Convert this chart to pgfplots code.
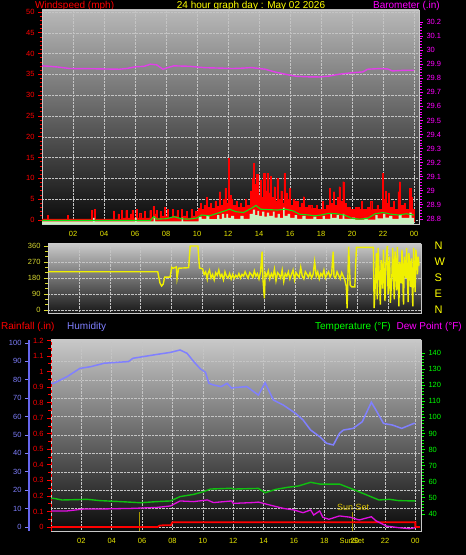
\documentclass[border=0pt]{standalone}
\usepackage{fontspec}
\setmainfont{Liberation Sans}
\usepackage{pgfplots}
\pgfplotsset{compat=1.18}
\definecolor{ttlyellow}{HTML}{FFFF00}
\definecolor{tickyellow}{HTML}{E8E800}
\definecolor{windred}{HTML}{FF0000}
\definecolor{baromag}{HTML}{FF00FF}
\definecolor{barline}{HTML}{E040E8}
\definecolor{lgfill}{HTML}{C8F0C0}
\definecolor{avggreen}{HTML}{10E010}
\definecolor{diryellow}{HTML}{F0F000}
\definecolor{dirlab}{HTML}{D8D830}
\definecolor{humblue}{HTML}{8080FF}
\definecolor{humaxis}{HTML}{6666EE}
\definecolor{tempgreen}{HTML}{10C010}
\definecolor{templab}{HTML}{00FF00}
\definecolor{dewmag}{HTML}{E010E0}
\definecolor{sunline}{HTML}{A89800}
\definecolor{suntext}{HTML}{D8C000}
\definecolor{framec}{HTML}{C8C8C8}
\definecolor{gridc}{HTML}{C4C4C4}
\definecolor{bgtopa}{HTML}{B8B8B8}
\definecolor{bgmida}{HTML}{505050}
\definecolor{bgbota}{HTML}{0A0A0A}
\definecolor{bgtopb}{HTML}{C8C8C8}
\definecolor{bgbotb}{HTML}{181818}
\pgfplotsset{
  panel/.style={
    scale only axis, anchor=south west,
    tick align=outside,
    major tick length=4pt, minor tick length=2.5pt,
    every tick/.style={line width=0.8pt},
    /pgf/number format/assume math mode=true,
    ticklabel style={font=\fontsize{7.5}{8}\selectfont},
    axis line style={draw=framec, line width=0.9pt},
  },
  gridded/.style={
    grid=major,
    major grid style={densely dotted, draw=gridc, line width=0.5pt},
  },
}
\begin{document}
\begin{tikzpicture}
\fill[black] (0pt,0pt) rectangle (466pt,555pt);

% ---------------- titles ----------------
\node[anchor=west, text=windred, font=\fontsize{10}{12}\selectfont, inner sep=0pt] at (35pt,549pt) {Windspeed (mph)};
\node[text=ttlyellow, font=\fontsize{10}{12}\selectfont, inner sep=0pt] at (251pt,549pt) {24 hour graph day : May 02 2026};
\node[anchor=east, text=baromag, font=\fontsize{10}{12}\selectfont, inner sep=0pt] at (440pt,549pt) {Barometer (.in)};

% ---------------- top panel: wind ----------------
\begin{axis}[panel, gridded, at={(42pt,331pt)}, width=377pt, height=214pt,
  xmin=0, xmax=24.32, ymin=-0.96, ymax=50.48,
  axis background/.style={top color=bgtopa, middle color=bgmida, bottom color=bgbota},
  xtick={2,4,...,24}, xticklabels={02,04,06,08,10,12,14,16,18,20,22,00},
  xticklabel style={text=tickyellow}, xtick style={draw=none}, xtick pos=left,
  ytick={0,5,...,50}, minor y tick num=4, ytick pos=left,
  yticklabel style={text=windred}, ytick style={draw=windred}]
% gusts
\addplot[const plot, fill=windred, draw=windred, line width=0.4pt] coordinates {
(0,-0.5) (0,0.3) (0.35,1.1) (0.42,0.3) (1.65,1.1) (1.72,0.3) (3.2,2.4) (3.27,0.3) (3.35,2.5) (3.42,0.3)
(4.6,2.2) (4.67,0.3) (4.9,1.5) (4.97,0.3) (5.1,2.4) (5.17,0.5) (5.4,2.3) (5.47,0.5) (5.7,1.5) (5.8,2.4)
(5.87,0.5) (6.05,2.5) (6.12,0.5) (6.3,1.6) (6.37,0.5) (6.6,2.0) (6.67,0.5) (6.95,2.3) (7.02,0.5) (7.15,3.2)
(7.22,1.5) (7.35,2.4) (7.42,0.5) (7.6,2.0) (7.67,1.0) (7.9,3.0) (7.97,1.0) (8.1,2.5) (8.17,0.5) (8.4,2.5)
(8.47,1.0) (8.7,2.4) (8.77,0.5) (9.0,2.5) (9.07,1.0) (9.3,2.0) (9.37,0.5) (9.6,2.5) (9.67,1.0) (9.9,2.0)
(10.0,1.5) (10.05,2.8) (10.2,4.0) (10.27,2.5) (10.45,3.5) (10.6,5.4) (10.67,3.0) (10.85,4.0) (10.92,2.8)
(11.15,4.5) (11.22,3.2) (11.45,6.8) (11.52,3.5) (11.7,5.0) (11.8,7.6) (11.87,4.0) (12.0,14.8) (12.07,6.0)
(12.2,5.0) (12.27,3.5) (12.5,4.5) (12.57,3.0) (12.8,4.0) (12.87,3.0) (13.1,5.0) (13.17,3.5) (13.45,7.0)
(13.55,10.0) (13.65,13.6) (13.72,8.5) (13.85,11.0) (13.92,6.0) (14.05,9.5) (14.12,5.5) (14.3,11.2)
(14.37,7.0) (14.5,11.2) (14.57,6.5) (14.7,10.5) (14.77,5.5) (14.95,8.0) (15.02,4.5) (15.15,10.0) (15.22,5.0)
(15.4,7.0) (15.47,4.0) (15.6,11.2) (15.67,6.5) (15.8,5.0) (15.95,7.6) (16.02,3.5) (16.2,5.0) (16.27,4.5)
(16.5,3.0) (16.7,4.0) (16.85,5.6) (16.92,3.0) (17.2,3.5) (17.4,2.8) (17.7,3.5) (17.77,2.5) (18.05,4.4)
(18.12,2.5) (18.35,3.5) (18.55,7.6) (18.62,4.0) (18.8,6.8) (18.87,3.5) (19.05,5.5) (19.15,8.0) (19.22,4.5)
(19.4,9.2) (19.47,4.0) (19.65,3.0) (19.9,2.5) (20.2,3.0) (20.45,2.5) (20.6,4.4) (20.67,2.5) (21.0,3.0)
(21.2,4.4) (21.27,2.5) (21.6,3.5) (21.67,2.5) (21.95,11.2) (22.02,5.0) (22.15,7.0) (22.22,4.0) (22.35,6.5)
(22.42,3.0) (22.65,4.4) (22.72,2.5) (22.95,6.8) (23.05,9.2) (23.12,3.5) (23.35,4.0) (23.42,2.5) (23.7,7.6)
(23.8,5.5) (23.87,2.5) (24.0,2.5) (24.0,-0.5)};
% wind speed samples
\addplot[const plot, fill=lgfill, draw=none] coordinates {
(0,-0.96) (0,-0.3) (3.3,0.5) (3.4,-0.3) (6.0,0.6) (6.1,-0.3) (7.2,0.8) (7.3,-0.3) (9.0,0.6) (9.1,-0.3)
(10.1,0.8) (10.3,0.3) (10.6,1.0) (10.8,0.2) (11.3,1.2) (11.45,0.3) (11.6,1.5) (11.75,0.5) (11.9,1.5)
(12.0,0.5) (12.2,1.0) (12.4,0.3) (12.8,1.0) (13.0,0.3) (13.4,1.5) (13.6,2.5) (13.75,1.2) (13.9,2.2)
(14.0,1.0) (14.2,2.0) (14.35,0.8) (14.5,1.8) (14.65,1.0) (14.9,2.0) (15.0,0.6) (15.2,1.5) (15.35,0.5)
(15.55,3.0) (15.65,1.0) (15.85,1.5) (16.0,0.5) (16.3,1.2) (16.45,0.3) (16.8,1.0) (17.0,0.3) (17.5,0.8)
(17.7,0.2) (18.1,1.0) (18.25,0.3) (18.6,1.5) (18.7,0.5) (19.0,1.2) (19.15,0.3) (19.4,1.5) (19.5,0.3)
(20.0,0.6) (20.2,0.1) (20.8,0.5) (21.0,0.1) (21.5,1.2) (21.65,0.4) (22.0,1.5) (22.15,0.6) (22.4,1.0)
(22.6,0.3) (23.0,1.2) (23.2,0.5) (23.7,1.8) (23.85,0.5) (24.0,0.5) (24.0,-0.96)};
% average wind
\addplot[avggreen, line width=1.1pt] coordinates {
(0,-0.1) (7.0,-0.1) (7.2,0.8) (7.4,0.2) (8.0,0.3) (8.5,0.8) (9.0,0.3) (9.5,0.2) (10.0,0.5) (10.3,1.2)
(10.8,1.0) (11.3,1.6) (11.8,2.2) (12.1,2.6) (12.5,2.0) (13.0,1.8) (13.5,2.8) (13.8,3.5) (14.1,2.6)
(14.6,2.5) (15.2,2.4) (15.7,2.6) (16.2,2.2) (16.6,1.4) (17.2,1.2) (17.6,1.0) (18.0,1.2) (18.5,1.6)
(19.0,1.5) (19.5,1.2) (20.0,0.4) (20.5,0.2) (21.0,0.4) (21.5,1.5) (22.0,1.8) (22.5,1.4) (23.0,1.2)
(23.5,1.5) (24.0,1.2)};
\end{axis}

% barometer
\begin{axis}[panel, at={(42pt,331pt)}, width=377pt, height=214pt,
  xmin=0, xmax=24.32, ymin=28.764, ymax=30.285,
  axis y line*=right, axis x line=none,
  ytick={28.8,28.9,29.0,29.1,29.2,29.3,29.4,29.5,29.6,29.7,29.8,29.9,30.0,30.1,30.2},
  yticklabels={28.8,28.9,29,29.1,29.2,29.3,29.4,29.5,29.6,29.7,29.8,29.9,30,30.1,30.2},
  minor y tick num=4,
  yticklabel style={text=baromag}, ytick style={draw=baromag}]
\addplot[barline, line width=1.4pt] coordinates {
(0,29.888) (0.5,29.885) (1.0,29.880) (1.8,29.869) (3.0,29.868) (4.0,29.866) (5.0,29.864) (5.5,29.870)
(6.0,29.881) (6.6,29.885) (7.0,29.900) (7.4,29.895) (7.8,29.864) (8.1,29.875) (8.5,29.888) (9.5,29.885)
(10.5,29.875) (11.5,29.872) (12.3,29.869) (13.0,29.872) (13.5,29.876) (14.4,29.864) (15.0,29.845)
(15.8,29.826) (16.4,29.814) (17.2,29.810) (17.9,29.809) (18.5,29.815) (19.2,29.829) (19.9,29.838)
(20.7,29.845) (21.0,29.864) (21.8,29.869) (22.3,29.866) (22.6,29.852) (23.3,29.856) (24.0,29.857)};
\end{axis}

% ---------------- middle panel: wind direction ----------------
\begin{axis}[panel, gridded, at={(48pt,242pt)}, width=373pt, height=69pt,
  xmin=0, xmax=24.13, ymin=-16.9, ymax=371.25,
  axis background/.style={top color=bgtopb, bottom color=bgbotb},
  xtick={2,4,...,22}, xticklabels={}, xtick style={draw=none}, xtick pos=left,
  ytick={0,90,180,270,360}, minor y tick num=2, ytick pos=left,
  yticklabel style={text=dirlab}, ytick style={draw=dirlab}]
\addplot[diryellow, line width=1.4pt] coordinates {
(0,215) (7.1,215) (7.25,150) (7.35,135) (7.45,145) (7.55,185) (7.9,185) (8.0,240) (8.1,235) (8.3,242)
(8.35,178) (8.45,235) (9.1,238) (9.2,360) (9.7,360) (9.8,236) (10.0,232) (10.1,200) (10.2,215) (10.3,175)
(10.35,205) (10.45,225) (10.55,180) (10.65,200) (10.75,170) (10.85,210) (10.95,195) (11.05,225)
(11.15,185) (11.25,200) (11.35,170) (11.45,215) (11.55,190) (11.65,180) (11.75,205) (11.85,175)
(11.95,200) (12.05,178) (12.15,195) (12.25,185) (12.35,205) (12.45,180) (12.55,200) (12.65,190)
(12.75,215) (12.85,195) (12.95,180) (13.05,210) (13.15,200) (13.25,185) (13.35,220) (13.45,190)
(13.55,205) (13.65,175) (13.75,215) (13.85,328) (13.9,180) (14.0,65) (14.05,210) (14.15,190) (14.25,220)
(14.35,175) (14.45,205) (14.55,185) (14.65,230) (14.75,165) (14.85,210) (14.95,200) (15.05,180)
(15.15,225) (15.25,160) (15.35,205) (15.45,190) (15.55,215) (15.65,175) (15.75,200) (15.85,225)
(15.95,170) (16.05,210) (16.15,195) (16.25,185) (16.35,240) (16.45,190) (16.55,175) (16.65,215)
(16.75,200) (16.85,185) (16.95,210) (17.05,180) (17.15,200) (17.25,272) (17.35,190) (17.45,215)
(17.55,175) (17.65,205) (17.75,190) (17.85,225) (17.95,180) (18.05,200) (18.15,215) (18.25,185)
(18.35,205) (18.45,328) (18.5,190) (18.6,180) (18.7,215) (18.8,195) (18.9,175) (19.0,210) (19.1,190)
(19.2,170) (19.3,131) (19.35,9) (19.45,356) (19.55,140) (19.65,130) (19.85,130) (19.95,352) (21.05,352)
(21.1,10) (21.2,200) (21.25,320) (21.3,60) (21.35,350) (21.45,150) (21.5,30) (21.55,280) (21.65,120)
(21.7,340) (21.8,50) (21.85,250) (21.95,360) (22.0,90) (22.1,300) (22.15,40) (22.25,200) (22.3,350)
(22.4,60) (22.45,330) (22.55,110) (22.6,355) (22.7,20) (22.75,270) (22.85,150) (22.9,340) (23.0,30)
(23.05,300) (23.15,180) (23.2,350) (23.3,45) (23.35,320) (23.45,130) (23.5,290) (23.6,20) (23.65,350)
(23.75,100) (23.8,340) (23.9,200) (23.95,300) (24.0,250)};
\end{axis}
\begin{axis}[panel, at={(48pt,242pt)}, width=373pt, height=69pt,
  xmin=0, xmax=24.13, ymin=-16.9, ymax=371.25,
  axis y line*=right, axis x line=none, major tick length=0pt,
  ytick={0,90,180,270,360}, yticklabels={N,E,S,W,N},
  yticklabel style={text=ttlyellow, font=\fontsize{11}{12}\selectfont, xshift=10pt}]
\end{axis}

% ---------------- bottom panel titles ----------------
\node[anchor=west, text=windred, font=\fontsize{10}{12}\selectfont, inner sep=0pt] at (1pt,228pt) {Rainfall (.in)};
\node[anchor=west, text=humblue, font=\fontsize{10}{12}\selectfont, inner sep=0pt] at (67pt,228pt) {Humidity};
\node[anchor=east, text=templab, font=\fontsize{10}{12}\selectfont, inner sep=0pt] at (391pt,228pt) {Temperature (°F)};
\node[anchor=east, text=baromag, font=\fontsize{10}{12}\selectfont, inner sep=0pt] at (462pt,228pt) {Dew Point (°F)};

% ---------------- bottom panel: humidity (with background and grid) ----------------
\begin{axis}[panel, gridded, at={(51pt,24pt)}, width=370pt, height=191pt,
  xmin=0, xmax=24.37, ymin=-2.17, ymax=101.63,
  axis background/.style={top color=bgtopb, bottom color=bgbota},
  xtick={2,4,...,24}, xticklabels={02,04,06,08,10,12,14,16,18,20,22,00},
  extra x ticks={19.82}, extra x tick labels={SunSet}, extra x tick style={grid=none},
  xticklabel style={text=tickyellow}, xtick style={draw=none}, xtick pos=left,
  ytick={0,10,...,100}, yticklabels={}, ytick style={draw=none}]
\addplot[humblue, line width=1.5pt] coordinates {
(0,78.1) (0.18,78.1) (1.06,81.7) (1.9,86.2) (2.6,87.1) (3.5,89.0) (5.1,89.9) (5.4,91.7) (6.98,93.8)
(7.87,94.9) (8.5,96.2) (8.96,94.4) (9.4,89.9) (9.84,85.9) (10.17,84.1) (10.4,78.1) (10.7,77.2)
(11.2,76.3) (11.6,78.1) (11.9,75.4) (12.0,75.7) (12.9,76.3) (13.66,71.7) (14.1,78.4) (14.65,69.0)
(15.3,66.3) (16.1,61.8) (16.6,58.2) (17.1,52.7) (17.7,49.1) (18.15,45.5) (18.6,44.6) (19.0,50.9)
(19.26,52.7) (19.9,53.6) (20.5,57.2) (21.1,67.8) (21.4,63.6) (21.9,56.3) (22.5,55.4) (23.1,53.6)
(23.9,56.3) (24.0,56.3)};
\end{axis}

% rainfall axis
\begin{axis}[panel, at={(51pt,24pt)}, width=370pt, height=191pt,
  xmin=0, xmax=24.37, ymin=-0.0257, ymax=1.203,
  axis y line*=left, axis x line=none,
  ytick={0,0.1,0.2,0.3,0.4,0.5,0.6,0.7,0.8,0.9,1.0,1.1,1.2},
  yticklabels={0,0.1,0.2,0.3,0.4,0.5,0.6,0.7,0.8,0.9,1,1.1,1.2},
  minor y tick num=1,
  yticklabel style={text=windred}, ytick style={draw=windred},
  y axis line style={draw=windred, dashed}]
\addplot[sunline, line width=1.3pt] coordinates {(5.82,-0.03) (5.82,0.098)};
\addplot[sunline, line width=1.3pt] coordinates {(19.88,-0.03) (19.88,0.098)};
\addplot[windred, line width=1.8pt] coordinates {
(0,0) (7.0,0) (7.2,0.01) (7.9,0.012) (8.0,0.03) (24.0,0.03) (24.0,0.0) (24.3,0.0)};
\node[text=suntext, font=\fontsize{9}{10}\selectfont] at (axis cs:19.9,0.125) {Sun Set};
\end{axis}

% temperature / dew point axis
\begin{axis}[panel, at={(51pt,24pt)}, width=370pt, height=191pt,
  xmin=0, xmax=24.37, ymin=29.44, ymax=148.07,
  axis y line*=right, axis x line=none,
  ytick={40,50,...,140}, minor y tick num=4,
  yticklabel style={text=templab}, ytick style={draw=templab}]
\addplot[tempgreen, line width=1.4pt] coordinates {
(0,49.7) (0.18,49.7) (0.73,48.7) (2.38,49.1) (3.25,48.3) (4.57,47.7) (5.89,47.0) (6.98,47.7) (7.87,48.1)
(8.5,50.8) (9.4,52.2) (10.06,53.9) (10.5,55.5) (11.9,56.0) (12.0,55.5) (13.66,55.9) (14.1,53.2)
(14.8,55.3) (15.6,56.6) (16.3,57.4) (17.1,59.7) (17.7,58.6) (19.0,58.6) (19.9,55.3) (20.8,51.8)
(21.6,48.7) (22.3,49.1) (22.9,48.3) (24.0,48.1)};
\addplot[dewmag, line width=1.3pt] coordinates {
(0,41.9) (0.18,41.9) (1.06,41.9) (2.16,43.1) (3.25,43.1) (5.4,43.5) (7.0,44.1) (7.87,45.0) (8.5,48.1)
(9.4,47.7) (10.3,48.7) (10.7,47.1) (11.9,48.1) (12.0,46.6) (13.3,47.1) (13.66,47.4) (14.4,45.6)
(15.3,43.5) (16.0,42.5) (16.6,40.8) (17.1,42.5) (17.3,39.4) (17.7,41.9) (17.9,38.0) (18.3,36.7)
(19.0,38.8) (19.7,38.0) (20.3,36.3) (21.1,38.3) (21.4,35.8) (22.1,32.5) (22.9,31.5) (23.6,30.9)
(24.0,31.5)};
\end{axis}

% humidity scale (blue, left)
\begin{axis}[panel, at={(29pt,24pt)}, width=1pt, height=191pt,
  xmin=0, xmax=1, ymin=-2.17, ymax=101.63,
  axis y line*=left, axis x line=none,
  y axis line style={draw=humaxis, line width=2pt},
  ytick={0,10,...,100},
  yticklabel style={text=humblue}, ytick style={draw=humblue}]
\end{axis}

\pgfresetboundingbox
\useasboundingbox (0pt,0pt) rectangle (466pt,555pt);
\end{tikzpicture}
\end{document}
